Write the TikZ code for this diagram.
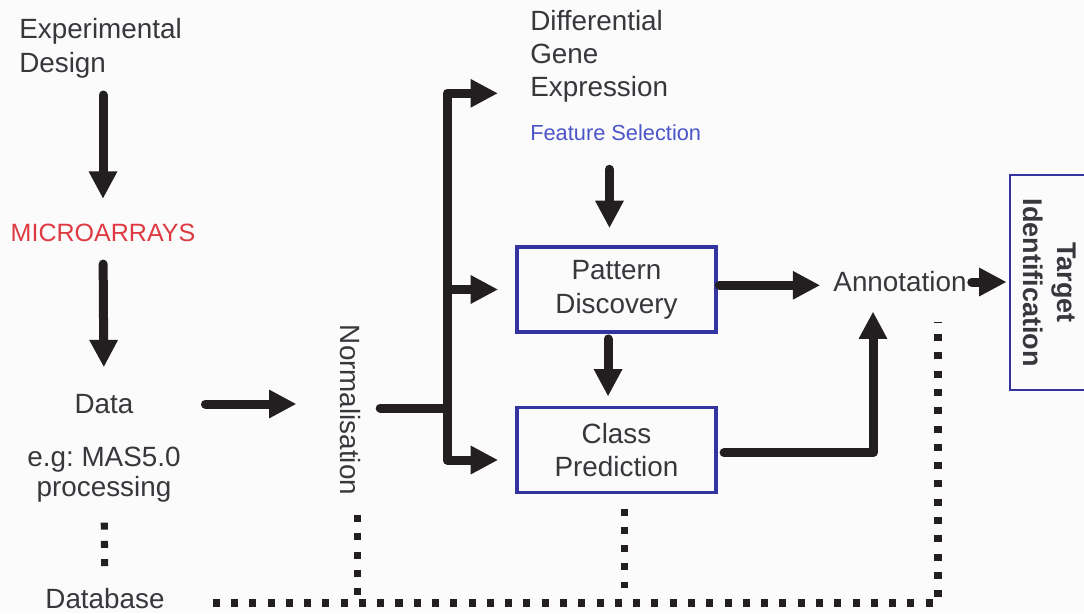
\documentclass[tikz,border=0pt]{standalone}
\usepackage{fontspec}
\setmainfont{Liberation Sans}
\usetikzlibrary{arrows.meta,calc}
\definecolor{ink}{RGB}{35,31,32}
\definecolor{txt}{RGB}{55,55,60}
\definecolor{boxblue}{RGB}{52,52,160}
\definecolor{selblue}{RGB}{75,85,200}
\definecolor{mred}{RGB}{222,58,66}
\definecolor{paper}{RGB}{251,251,252}
\frenchspacing
\begin{document}
\begin{tikzpicture}[x=0.025cm, y=-0.025cm,
  every node/.style={inner sep=0pt, text=txt, font=\fontsize{19.8}{24}\selectfont},
  procbox/.style={draw=boxblue, line width=2.8pt, minimum width=4.975cm,
    minimum height=2.125cm, align=center},
  conn/.style={draw=ink, line width=6.4pt, line join=round, line cap=round},
  arr/.style={conn, -{Triangle[length=19.5pt,width=19pt]}},
  dots/.style={draw=ink, line width=5pt, line cap=butt, dash pattern=on 5pt off 8pt}]

\fill[paper] (0,0) rectangle (1084,613);
\useasboundingbox (0,0) rectangle (1084,613);

% stages of the workflow
\node[anchor=west, align=left] (ed) at (19,48) {Experimental\\Design};
\node[text=mred, font=\fontsize{17.8}{21}\selectfont] (micro) at (103,233) {MICROARRAYS};
\node (data) at (104,404) {Data};
\node[align=center, font=\fontsize{19.8}{21.3}\selectfont] (eg) at (104,475) {e.g: MAS5.0\\processing};
\node (db) at (105,599) {Database};
\node[rotate=-90] (norm) at (350,410) {Normalisation};
\node[anchor=west, align=left, font=\fontsize{19.8}{23.5}\selectfont] (dge) at (530,56) {Differential\\Gene\\Expression};
\node[anchor=west, text=selblue, font=\fontsize{15.5}{18}\selectfont] (fs) at (530,133) {Feature Selection};
\node[procbox] (pd) at (616.5,289.5) {Pattern\\Discovery};
\node[procbox] (cp) at (616.5,450) {Class\\Prediction};
\node (ann) at (900,282) {Annotation};
\node[draw=boxblue, line width=2pt, rotate=-90, minimum width=5.375cm, minimum height=2cm,
  align=center, font=\fontsize{19.2}{24}\selectfont\bfseries] (tgt) at (1050,282.5) {Target\\Identification};

% main flow
\draw[arr, shorten <=12pt, shorten >=17.8pt] (ed.south -| micro.north) -- (micro.north);
\draw[arr, shorten <=15.6pt, shorten >=19pt] (micro.south) -- (data.north);
\draw[arr, shorten <=51pt, shorten >=30.6pt] (data.east) -- (data.east -| norm.south);

% branching after normalisation
\coordinate (split) at (447,408);
\draw[conn, shorten <=14pt] (norm.north |- split) -- (split);
\draw[arr, shorten >=22.8pt] (split) |- ($(dge.south west)+(0,-9)$);
\draw[arr, shorten >=12pt] (split) |- (pd.west);
\draw[arr, shorten >=12pt] (split) |- ($(cp.west)+(0,10)$);

\draw[arr, shorten <=19.9pt, shorten >=12pt] ([xshift=-5pt]pd.north |- fs.south) -- ([xshift=-5pt]pd.north);
\draw[arr, shorten <=3.5pt, shorten >=6.4pt] ([xshift=-6pt]pd.south) -- ([xshift=-6pt]cp.north);
\draw[arr, shorten <=1pt, shorten >=9.2pt] ([yshift=3pt]pd.east) -- ([yshift=3pt]pd.east -| ann.west);
\draw[arr, shorten <=3.5pt, shorten >=1.4pt] (ann.east) -- (ann.east -| tgt.south);
\draw[arr, shorten <=4.3pt, shorten >=13.5pt] ([yshift=-2pt]cp.east) -| ($(ann.south)+(-27,0)$);

% dotted links to the database
\coordinate (dbend) at (938,603);
\draw[dots, shorten <=14pt, shorten >=14pt] (eg.south) -- (db.north);
\draw[dots, shorten <=34pt] (db.east |- dbend) -- (dbend) -- ($(ann.south)+(38,29)$);
\draw[dots, shorten <=14pt, shorten >=5pt] ([xshift=5pt]norm.east) -- ([xshift=5pt]norm.east |- dbend);
\draw[dots, shorten <=10pt, shorten >=11pt] ([xshift=6pt]cp.south) -- ([xshift=6pt]cp.south |- dbend);
\end{tikzpicture}
\end{document}
